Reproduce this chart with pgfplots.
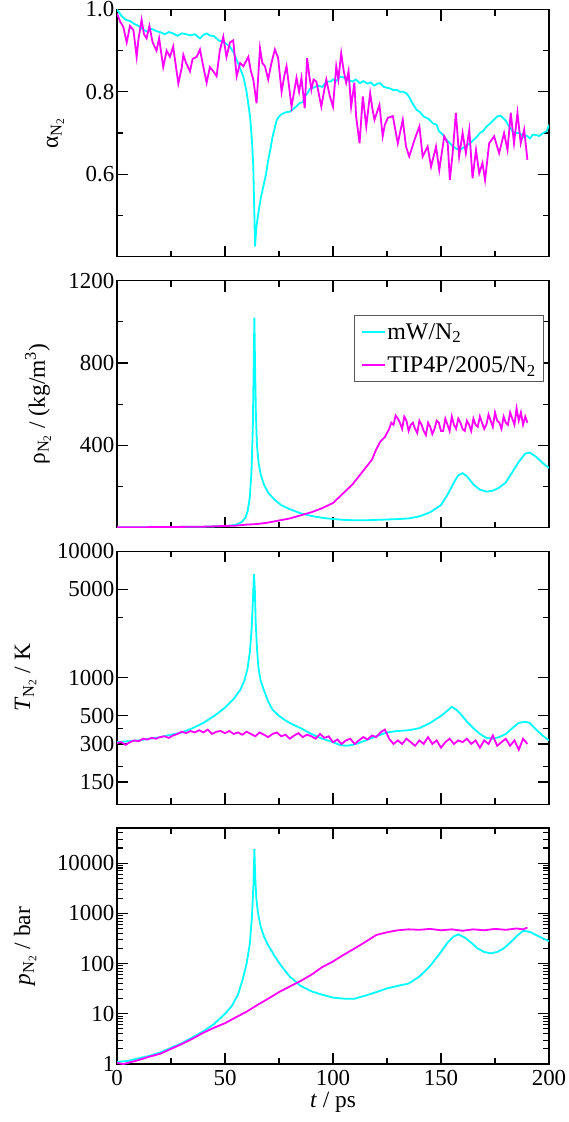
\documentclass[border=0pt]{standalone}
\usepackage{fontspec}
\setmainfont{Liberation Serif}
\usepackage{pgfplots}
\pgfplotsset{compat=1.18}
\definecolor{cyc}{RGB}{0,255,255}
\definecolor{mgc}{RGB}{255,0,255}
\newcommand{\fs}{\fontsize{23}{27}\selectfont}
\newcommand{\fl}{\fontsize{23.5}{27}\selectfont}
\pgfplotsset{
  base/.style={
    scale only axis, width=432bp, xmin=0, xmax=200,
    xtick={0,50,100,150,200}, minor xtick={25,75,125,175},
    tick align=inside, major tick length=11bp, minor tick length=6bp,
    axis line style={line width=1.4bp},
    every tick/.style={black, line width=1.1bp},
    tick label style={font=\fs, inner sep=2.5bp},
    /pgf/number format/assume math mode=true,
    anchor=north west,
  },
  cy/.style={color=cyc, line width=1.8bp},
  mg/.style={color=mgc, line width=1.8bp},
  ylab/.style={every axis y label/.style={at={(axis description cs:#1,0.5)}, rotate=90, anchor=base, font=\fl}},
}
\begin{document}
\begin{tikzpicture}
\path[use as bounding box] (0bp,0bp) rectangle (569bp,-1122bp);
% ---------- panel 1: alpha ----------
\begin{axis}[base, at={(117bp,-9.5bp)}, height=247bp,
  ymin=0.4, ymax=1.0, ytick={0.6,0.8,1.0}, yticklabels={0.6,0.8,1.0},
  minor ytick={0.5,0.7,0.9}, xticklabels={},
  ylab=-0.137, ylabel={α\textsubscript{N\textsubscript{2}}}]
\addplot[cy] coordinates {(0,1.0)(2,0.985)(4,0.975)(6,0.972)(8,0.965)(10,0.96)(12,0.952)(14,0.946)(16,0.953)(18,0.948)(20,0.945)(22,0.94)(24,0.945)(26,0.942)(28,0.936)(30,0.942)(32,0.94)(34,0.937)(36,0.94)(38.4,0.93)(40,0.938)(41.5,0.942)(43,0.937)(45,0.935)(47,0.925)(49,0.922)(51,0.915)(52.3,0.91)(54,0.895)(56,0.87)(58.5,0.837)(60,0.8)(61.6,0.74)(62.5,0.68)(63.1,0.618)(63.6,0.5)(63.9,0.424)(64.5,0.47)(65.4,0.505)(66.5,0.54)(67.7,0.569)(69,0.6)(70,0.634)(71,0.66)(72,0.69)(73.9,0.731)(75,0.74)(76,0.745)(78,0.75)(80.1,0.752)(82,0.76)(84.7,0.773)(86,0.775)(87,0.79)(88,0.795)(89.4,0.808)(91,0.81)(93,0.815)(95,0.812)(97.1,0.825)(99,0.825)(100,0.83)(101.5,0.826)(103.2,0.837)(105,0.835)(106,0.83)(107.5,0.828)(109,0.825)(110.5,0.83)(112.5,0.821)(114,0.826)(116,0.82)(117.5,0.823)(119,0.815)(120.5,0.82)(121.8,0.821)(123.5,0.812)(125,0.81)(126.5,0.808)(127.9,0.804)(129.5,0.805)(131,0.8)(132.5,0.8)(134.1,0.796)(135.5,0.785)(136.5,0.775)(138.7,0.756)(140,0.752)(142,0.74)(144,0.735)(146.4,0.723)(148,0.72)(149,0.705)(151,0.695)(152.6,0.683)(154,0.676)(155,0.67)(157,0.662)(158.8,0.659)(160.5,0.665)(162,0.67)(163.5,0.675)(165,0.683)(166.5,0.69)(168,0.7)(169.5,0.705)(171,0.715)(172.5,0.722)(174.2,0.731)(176,0.74)(177.5,0.742)(178.9,0.736)(180,0.73)(181,0.72)(182,0.712)(183,0.705)(185,0.7)(186.5,0.7)(188,0.69)(189.5,0.694)(191.2,0.687)(192.5,0.696)(194,0.695)(195.5,0.693)(197.4,0.7)(199,0.705)(200,0.72)};
\addplot[mg] coordinates {(0,0.99)(1.5,0.97)(2.9,0.958)(4.5,0.92)(6,0.96)(7.6,0.95)(9.1,0.885)(10,0.93)(11.4,0.975)(12.5,0.94)(13.7,0.93)(15,0.96)(16.5,0.92)(18.3,0.9)(19.5,0.93)(21.4,0.86)(23,0.9)(24.5,0.885)(26,0.91)(28.4,0.82)(30,0.86)(30.7,0.89)(32,0.87)(33.8,0.85)(35,0.88)(36.9,0.885)(38.4,0.903)(40,0.86)(41.5,0.822)(43,0.86)(44.6,0.85)(46.1,0.838)(47.6,0.9)(49.2,0.934)(50.7,0.885)(52.3,0.92)(53.8,0.925)(55.4,0.838)(57,0.87)(58.5,0.862)(60.8,0.885)(62,0.85)(63.1,0.83)(64.6,0.772)(66.2,0.906)(67.3,0.87)(68.5,0.862)(70,0.83)(71.5,0.87)(73.1,0.903)(74.6,0.882)(76.2,0.8)(77.5,0.84)(78.5,0.862)(80.8,0.764)(82,0.8)(83.1,0.834)(84.3,0.8)(85.4,0.834)(86.9,0.76)(88,0.882)(89,0.84)(90,0.805)(91,0.83)(92.3,0.825)(94.6,0.764)(95.8,0.8)(96.9,0.83)(98.5,0.79)(100,0.764)(101.5,0.862)(102.5,0.83)(103.8,0.894)(105,0.85)(106.1,0.822)(107.2,0.85)(108.4,0.764)(109.9,0.822)(110.7,0.74)(112.3,0.675)(113.8,0.789)(115.4,0.716)(117.2,0.797)(118.2,0.76)(119.2,0.732)(121.5,0.768)(123,0.692)(124,0.72)(125.4,0.737)(127.7,0.741)(130,0.675)(132.3,0.732)(133.8,0.667)(135.3,0.643)(137.7,0.683)(140,0.716)(141.5,0.643)(143.8,0.667)(145.4,0.618)(147.7,0.667)(149.2,0.61)(151.5,0.692)(153.1,0.675)(154.1,0.586)(155.4,0.651)(156.9,0.749)(158.4,0.643)(160,0.7)(161.5,0.651)(163.1,0.708)(164.6,0.59)(166.2,0.659)(167.7,0.602)(169.2,0.627)(170.4,0.586)(172.3,0.675)(174.6,0.692)(176.9,0.651)(179.2,0.7)(180.8,0.659)(182.3,0.749)(183.8,0.675)(185.4,0.749)(186.9,0.675)(188.5,0.708)(190,0.635)};
\end{axis}
% ---------- panel 2: rho ----------
\begin{axis}[base, at={(117bp,-280.7bp)}, height=247bp,
  ymin=0, ymax=1200, ytick={400,800,1200}, yticklabels={400,800,1200},
  minor ytick={200,600,1000}, xticklabels={},
  ylab=-0.167, ylabel={ρ\textsubscript{N\textsubscript{2}} / (kg/m\textsuperscript{3})},
  legend style={at={(axis description cs:0.989,0.862)}, anchor=north east,
    draw=black!65, line width=1bp, font=\fontsize{24}{28}\selectfont,
    row sep=12bp, inner xsep=6bp, inner ysep=6bp},
  legend cell align=left,
  legend image code/.code={\draw[#1] (0bp,0bp) -- (23bp,0bp);}]
\addplot[cy] coordinates {(0,2)(20,3)(40,5)(50,8)(54,12)(56,18)(58,30)(59.5,50)(60.5,80)(61.5,150)(62.3,280)(62.9,500)(63.3,800)(63.6,1020)(63.9,800)(64.3,550)(64.8,400)(65.5,320)(66.5,260)(68,210)(70,170)(73,135)(76,110)(80,90)(85,70)(90,57)(95,48)(100,42)(105,38)(110,36)(115,36)(120,38)(125,40)(130,42)(135,45)(140,55)(145,75)(150,110)(153,160)(156,220)(158,255)(160,265)(162,250)(165,210)(168,185)(171,175)(174,180)(177,195)(180,220)(183,270)(186,320)(189,360)(191,365)(194,345)(197,315)(200,290)};
\addlegendentry{mW/N\textsubscript{2}}
\addplot[mg] coordinates {(0,2)(20,3)(40,5)(55,10)(60,15)(65,18)(70,25)(75,35)(80,45)(85,60)(90,75)(95,95)(100,120)(103,150)(106,180)(109,210)(112,250)(115,290)(118,330)(120,380)(122,420)(124,440)(126,480)(127,510)(128,500)(129,545)(130,530)(131,510)(132,480)(133,540)(134,520)(135,470)(136,500)(137,510)(138,480)(139,460)(140,520)(141,500)(142,470)(143,450)(144,510)(145,490)(146,455)(147,480)(148,520)(149,510)(150,470)(151,470)(152,530)(153,500)(154,470)(155,540)(156,500)(157,480)(158,530)(159,510)(160,480)(161,470)(162,520)(163,500)(164,470)(165,530)(166,500)(167,490)(168,540)(169,510)(170,480)(171,500)(172,550)(173,520)(174,490)(175,560)(176,520)(177,510)(178,480)(179,540)(180,510)(181,500)(182,560)(183,530)(184,500)(185,580)(186,520)(187,560)(188,500)(189,540)(190,510)};
\addlegendentry{TIP4P/2005/N\textsubscript{2}}
\end{axis}
% ---------- panel 3: T ----------
\begin{axis}[base, at={(117bp,-551.3bp)}, height=253bp, ymode=log,
  ymin=100, ymax=10000, ytick={150,300,500,1000,5000,10000},
  yticklabels={150,300,500,1000,5000,10000},
  minor ytick={200,400,3000}, xticklabels={},
  ylab=-0.201, ylabel={\textit{T}\textsubscript{N\textsubscript{2}} / K}]
\addplot[cy] coordinates {(0,310)(5,315)(10,320)(15,330)(20,340)(25,355)(30,370)(35,400)(40,440)(45,500)(50,580)(54,680)(57,800)(59,950)(60.5,1200)(61.5,1600)(62.3,2400)(62.9,4000)(63.4,6600)(63.8,5000)(64.2,2800)(64.8,1700)(65.5,1200)(66.5,950)(68,800)(70,650)(72,560)(75,500)(78,460)(81,430)(85,400)(90,360)(95,330)(100,310)(103,295)(106,290)(109,295)(112,305)(115,320)(120,345)(125,370)(130,380)(135,385)(140,400)(145,440)(150,500)(153,550)(155,590)(157,560)(159,520)(162,450)(165,400)(168,360)(171,335)(174,330)(177,340)(180,360)(183,400)(186,440)(189,450)(191,440)(194,390)(197,350)(200,320)};
\addplot[mg] coordinates {(0,305)(2,310)(4,295)(6,310)(8,320)(10,315)(12,330)(14,325)(16,335)(18,330)(20,340)(22,345)(24,335)(26,350)(28,360)(30,375)(32,365)(34,380)(36,370)(38,385)(40,370)(42,390)(44,360)(46,375)(48,380)(50,365)(52,380)(54,360)(56,370)(58,355)(60,375)(62,360)(64,345)(66,370)(68,355)(70,340)(72,360)(74,370)(76,345)(78,355)(80,330)(82,350)(84,365)(86,340)(88,355)(90,345)(92,330)(94,360)(96,335)(98,345)(100,310)(102,325)(104,300)(106,320)(108,330)(110,300)(112,320)(114,340)(116,325)(118,350)(120,340)(122,370)(124,390)(125,360)(126,330)(128,300)(130,320)(132,300)(134,330)(136,310)(138,290)(140,320)(142,300)(144,340)(146,300)(148,320)(150,280)(152,310)(154,330)(156,300)(158,320)(160,310)(162,330)(164,300)(166,320)(168,280)(170,320)(172,300)(174,350)(176,290)(178,310)(180,330)(182,290)(184,320)(186,270)(188,330)(190,300)};
\end{axis}
% ---------- panel 4: p ----------
\begin{axis}[base, at={(117bp,-828bp)}, height=236bp, ymode=log,
  ymin=1, ymax=50000, ytick={1,10,100,1000,10000},
  yticklabels={1,10,100,1000,10000},
  minor ytick={2,3,4,5,6,7,8,9,20,30,40,50,60,70,80,90,200,300,400,500,600,700,800,900,2000,3000,4000,5000,6000,7000,8000,9000,20000,30000,40000},
  xticklabels={0,50,100,150,200},
  xticklabel style={yshift=-4bp},
  ylab=-0.201, ylabel={\textit{p}\textsubscript{N\textsubscript{2}} / bar},
  every axis x label/.style={at={(axis description cs:0.5,0)}, anchor=base, yshift=-43bp, font=\fl},
  xlabel={\textit{t} / ps}]
\addplot[cy] coordinates {(0,1.1)(5,1.15)(10,1.3)(15,1.45)(20,1.7)(25,2.1)(30,2.6)(35,3.4)(40,4.5)(45,6.3)(50,10)(53,14)(56,24)(58,45)(60,100)(61.5,250)(62.5,900)(63.2,4000)(63.6,19000)(64,5000)(64.5,2000)(65.3,1000)(66.5,550)(68,350)(70,230)(73,140)(76,90)(80,55)(85,36)(90,28)(95,24)(100,21)(105,20)(110,20)(115,23)(120,27)(125,32)(130,36)(135,40)(140,55)(145,90)(150,170)(153,260)(156,350)(158,380)(161,330)(164,260)(167,200)(170,170)(173,160)(176,170)(179,200)(182,260)(185,350)(188,450)(191,430)(194,370)(197,320)(200,280)};
\addplot[mg] coordinates {(0,1.05)(3,1.0)(6,1.08)(10,1.2)(15,1.4)(20,1.6)(25,2.0)(30,2.5)(35,3.2)(40,4.2)(45,5.3)(50,6.5)(55,8.5)(60,11)(65,15)(70,20)(75,27)(80,35)(85,45)(90,60)(95,85)(100,110)(105,150)(110,200)(115,270)(120,370)(125,420)(130,460)(135,480)(140,470)(145,490)(150,460)(155,480)(160,450)(165,480)(170,460)(175,490)(180,470)(185,500)(188,480)(190,520)};
\end{axis}
\end{tikzpicture}
\end{document}
